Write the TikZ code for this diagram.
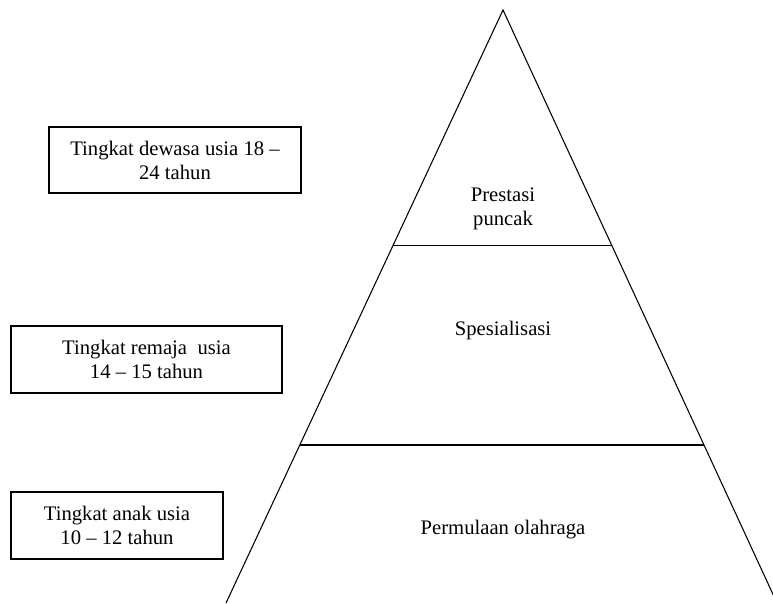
\documentclass[tikz,border=0pt]{standalone}
\usepackage{fontspec}
\setmainfont{Liberation Serif}
\usetikzlibrary{calc}

\begin{document}
\begin{tikzpicture}[x=0.75pt, y=-0.75pt,
    font=\fontsize{15.5}{18}\selectfont,
    agebox/.style={draw, line width=1pt, align=center, inner sep=0pt},
    levellabel/.style={align=center, inner sep=1pt}]
    \useasboundingbox (0,0) rectangle (773,603);
    % pyramid
    \coordinate (apex) at (503,10);
    \coordinate (bl) at (226,603);
    \coordinate (br) at (777,603);
    \draw[line width=0.8pt] (bl) -- (apex) -- (br);
    \draw[line width=0.8pt] ($(apex)!0.3975!(bl)$) -- ($(apex)!0.3975!(br)$);
    \draw[line width=0.8pt] ($(apex)!0.7336!(bl)$) -- ($(apex)!0.7336!(br)$);
    % levels
    \node[levellabel] (puncak) at (503,209) {Prestasi\\puncak};
    \node[levellabel] (spesial) at (503,331) {Spesialisasi};
    \node[levellabel] (mulai) at (503,530) {Permulaan olahraga};
    % ages
    \node[agebox, minimum width=189pt, minimum height=49.5pt] (dewasa) at (175,160)
      {Tingkat dewasa usia 18 --\\24 tahun};
    \node[agebox, minimum width=203.25pt, minimum height=50.25pt] (remaja) at (146.5,359.5)
      {Tingkat remaja\ \ usia\\14 -- 15 tahun};
    \node[agebox, minimum width=159pt, minimum height=50.25pt] (anak) at (117,525.5)
      {Tingkat anak usia\\10 -- 12 tahun};
\end{tikzpicture}
\end{document}
